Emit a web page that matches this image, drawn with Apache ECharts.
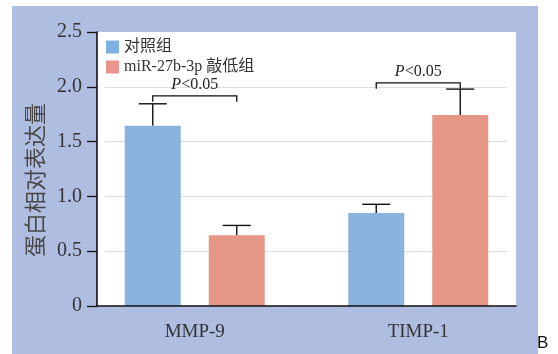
<!DOCTYPE html>
<html>
<head>
<meta charset="utf-8">
<script src="https://cdn.jsdelivr.net/npm/echarts@6/dist/echarts.min.js"></script>
<style>html,body{margin:0;padding:0;background:#fff;}#c{width:558px;height:354px;}</style>
</head>
<body>
<div id="c"></div>
<script>
// ---- data ----
var categories = ['MMP-9', 'TIMP-1'];
var seriesNames = ['对照组', 'miR-27b-3p 敲低组'];
var controlValues = [1.645, 0.848];
var controlErrors = [0.20, 0.08];
var knockdownValues = [0.645, 1.743];
var knockdownErrors = [0.09, 0.236];
var bracketLevels = [1.918, 2.036];
var bracketLabels = ['P<0.05', 'P<0.05'];
var yTicks = [0, 0.5, 1.0, 1.5, 2.0, 2.5];

// ---- style constants ----
var BAR_W = 56, BAR_GAP_PX = 28;
var OFFSET = (BAR_W + BAR_GAP_PX) / 2;
var serif = '"Liberation Serif","Noto Sans CJK SC",serif';
var blue = '#8bb1df', red = '#e59786';

var chart = echarts.init(document.getElementById('c'), null, {renderer: 'canvas'});

function errRender(offsetSign, vals, errs) {
  return function (params, api) {
    var i = api.value(0);
    var v = vals[i], e = errs[i];
    var base = api.coord([i, v]);
    var top = api.coord([i, v + e]);
    var x = base[0] + offsetSign * OFFSET;
    var capHalf = 14;
    return {
      type: 'group',
      children: [
        {type: 'line', shape: {x1: x, y1: base[1], x2: x, y2: top[1]}, style: {stroke: '#111', lineWidth: 1.4}},
        {type: 'line', shape: {x1: x - capHalf, y1: top[1], x2: x + capHalf, y2: top[1]}, style: {stroke: '#111', lineWidth: 1.4}}
      ]
    };
  };
}

function bracketRender(params, api) {
  var i = api.value(0);
  var lvl = bracketLevels[i];
  var p = api.coord([i, lvl]);
  var x1 = p[0] - OFFSET, x2 = p[0] + OFFSET, y = p[1];
  var drop = 6;
  return {
    type: 'group',
    children: [
      {type: 'polyline', shape: {points: [[x1, y + drop], [x1, y], [x2, y], [x2, y + drop]]}, style: {stroke: '#111', lineWidth: 1.3, fill: null}},
      {type: 'text', x: p[0], y: y - 3, style: {
        text: '{i|' + bracketLabels[i].charAt(0) + '}' + bracketLabels[i].slice(1),
        align: 'center', verticalAlign: 'bottom',
        font: '16px ' + serif, fill: '#222',
        rich: {i: {fontStyle: 'italic', fontFamily: serif, fontSize: 16, fill: '#222'}}
      }}
    ]
  };
}

var option = {
  animation: false,
  backgroundColor: '#fff',
  graphic: [
    {type: 'rect', left: 12, top: 6, z: -10, shape: {width: 526, height: 348}, style: {fill: '#afbde0'}},
    {type: 'text', left: 537, top: 335, style: {text: 'B', font: '17px "Liberation Sans",Arial,sans-serif', fill: '#111'}}
  ],
  legend: {
    orient: 'vertical', left: 106, top: 38, padding: 0, itemWidth: 13, itemHeight: 13, itemGap: 2,
    icon: 'rect',
    textStyle: {fontFamily: serif, fontSize: 16, color: '#333', lineHeight: 18},
    data: [
      {name: seriesNames[0], itemStyle: {color: '#7fb2e3'}},
      {name: seriesNames[1], itemStyle: {color: '#e9958e'}}
    ]
  },
  grid: [
    {left: 97, right: 42, top: 32, bottom: 48, show: true, backgroundColor: '#fff', borderWidth: 0},
    {left: 83, right: 28, top: 32, bottom: 48},
    {left: 105, right: 51, top: 32, bottom: 48}
  ],
  xAxis: [
    {type: 'category', gridIndex: 0, data: categories, z: 5,
     axisLine: {show: true, lineStyle: {color: '#111', width: 1.6}}, axisTick: {show: false}, axisLabel: {show: false}},
    {type: 'category', gridIndex: 1, data: categories,
     axisLine: {show: false}, axisTick: {show: false},
     axisLabel: {show: true, margin: 17, fontFamily: serif, fontSize: 19, color: '#333'}},
    {type: 'category', gridIndex: 2, data: categories, show: false}
  ],
  yAxis: [
    {type: 'value', gridIndex: 0, min: 0, max: 2.5, interval: 0.5, z: 5,
     name: '蛋白相对表达量', nameLocation: 'middle', nameGap: 49, nameRotate: 90,
     nameTextStyle: {fontFamily: '"Noto Sans CJK SC",sans-serif', fontSize: 22, color: '#484848', padding: [0, 22, 0, 0]},
     axisLine: {show: true, lineStyle: {color: '#111', width: 1.6}},
     axisTick: {show: true, inside: false, length: 10, lineStyle: {color: '#111', width: 1.3}},
     axisLabel: {margin: 15, fontFamily: serif, fontSize: 20, color: '#333',
       formatter: function (v) { for (var k = 0; k < yTicks.length; k++) { if (Math.abs(yTicks[k] - v) < 1e-9) return v === 0 ? '0' : v.toFixed(1); } return ''; }},
     splitLine: {show: false}},
    {type: 'value', gridIndex: 1, min: 0, max: 2.5, interval: 0.5, show: false, splitLine: {show: false}},
    {type: 'value', gridIndex: 2, min: 0, max: 2.5, interval: 0.5,
     axisLine: {show: false}, axisTick: {show: false}, axisLabel: {show: false},
     splitLine: {show: true, showMinLine: false, showMaxLine: false, lineStyle: {color: '#dedede', width: 1}}}
  ],
  series: [
    {name: seriesNames[0], type: 'bar', xAxisIndex: 1, yAxisIndex: 1, data: controlValues,
     barWidth: BAR_W, barGap: (BAR_GAP_PX / BAR_W * 100) + '%', itemStyle: {color: blue}, z: 3},
    {name: seriesNames[1], type: 'bar', xAxisIndex: 1, yAxisIndex: 1, data: knockdownValues,
     barWidth: BAR_W, itemStyle: {color: red}, z: 3},
    {type: 'custom', xAxisIndex: 1, yAxisIndex: 1, data: [0, 1], renderItem: errRender(-1, controlValues, controlErrors), z: 2, silent: true},
    {type: 'custom', xAxisIndex: 1, yAxisIndex: 1, data: [0, 1], renderItem: errRender(1, knockdownValues, knockdownErrors), z: 2, silent: true},
    {type: 'custom', xAxisIndex: 1, yAxisIndex: 1, data: [0, 1], renderItem: bracketRender, z: 4, silent: true}
  ]
};
chart.setOption(option);
</script>
</body>
</html>
